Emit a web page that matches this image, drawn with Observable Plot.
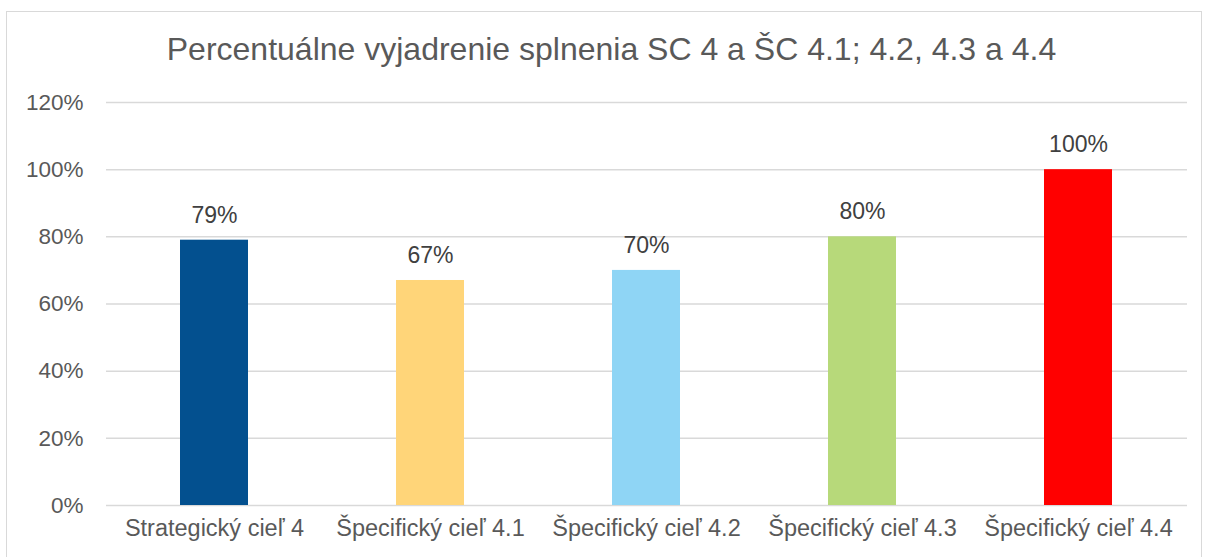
<!DOCTYPE html>
<html>
<head>
<meta charset="utf-8">
<script src="https://cdn.jsdelivr.net/npm/d3@7"></script>
<script src="https://cdn.jsdelivr.net/npm/@observablehq/plot@0.6"></script>
<style>
  html, body { margin: 0; padding: 0; background: #fff; }
  #wrap { position: relative; width: 1206px; height: 557px; overflow: hidden; font-family: "Liberation Sans", Arial, sans-serif; }
  #frame { position: absolute; left: 6px; top: 11px; width: 1196px; height: 560px; border: 1px solid #d9d9d9; box-sizing: border-box; }
  #title { position: absolute; left: 0; top: 31px; width: 1223px; text-align: center; font-size: 32px; line-height: 36px; color: #595959; }
  #chart { position: absolute; left: 0; top: 0; }
</style>
</head>
<body>
<div id="wrap">
  <div id="frame"></div>
  <div id="title">Percentuálne vyjadrenie splnenia SC 4 a ŠC 4.1; 4.2, 4.3 a 4.4</div>
  <div id="chart"></div>
</div>
<script>
const categories = ["Strategický cieľ 4", "Špecifický cieľ 4.1", "Špecifický cieľ 4.2", "Špecifický cieľ 4.3", "Špecifický cieľ 4.4"];
const values = [0.79, 0.67, 0.70, 0.80, 1.00];
const colors = ["#03508F", "#FFD579", "#8FD5F5", "#B7D97A", "#FF0000"];
const yTicks = [0, 0.2, 0.4, 0.6, 0.8, 1.0, 1.2];

const data = categories.map((c, i) => ({cat: c, v: values[i], col: colors[i]}));
const pct = d => Math.round(d * 100) + "%";

const chart = Plot.plot({
  width: 1206,
  height: 557,
  marginTop: 102,
  marginBottom: 52,
  marginLeft: 106,
  marginRight: 19,
  style: {fontFamily: "'Liberation Sans', Arial, sans-serif", fontSize: "19px", color: "#595959", background: "transparent"},
  x: {domain: categories, paddingInner: 0.685, paddingOuter: 0.335, label: null},
  y: {domain: [0, 1.2], ticks: yTicks, label: null},
  marks: [
    Plot.gridY(yTicks, {stroke: "#d9d9d9", strokeOpacity: 1, strokeWidth: 1.5}),
    Plot.barY(data, {x: "cat", y: "v", fill: d => d.col}),
    Plot.text(data, {x: "cat", y: "v", text: d => pct(d.v), dy: -25, fill: "#404040", fontSize: 23}),
    Plot.axisY(yTicks, {tickSize: 0, tickPadding: 23, tickFormat: pct, fill: "#595959", fontSize: 22.5}),
    Plot.axisX({tickSize: 0, tickPadding: 14, fill: "#595959", fontSize: 23.5})
  ]
});
document.getElementById("chart").appendChild(chart);
</script>
</body>
</html>
